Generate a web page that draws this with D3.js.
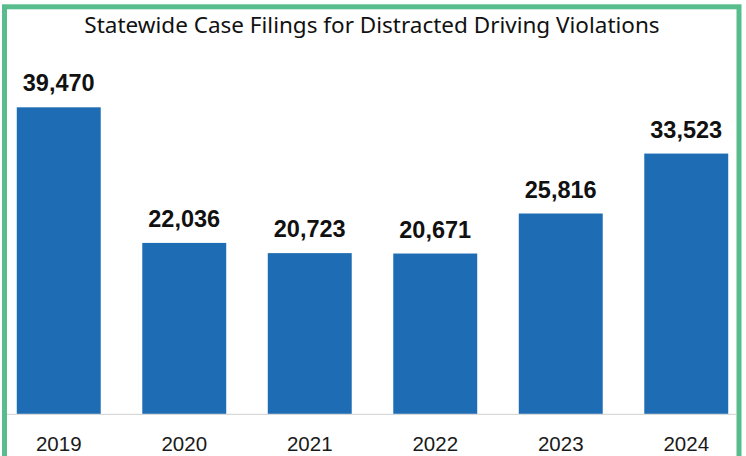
<!DOCTYPE html>
<html>
<head>
<meta charset="utf-8">
<script src="https://cdn.jsdelivr.net/npm/d3@7"></script>
<style>
  html, body { margin: 0; padding: 0; background: #fff; }
  svg { display: block; }
</style>
</head>
<body>
<svg id="chart" width="746" height="456"></svg>
<script>
const years = ["2019", "2020", "2021", "2022", "2023", "2024"];
const filings = [39470, 22036, 20723, 20671, 25816, 33523];
const title = "Statewide Case Filings for Distracted Driving Violations";

const svg = d3.select("#chart");
const width = +svg.attr("width");
const height = +svg.attr("height");

const baseY = 414.3;

const x = d3.scaleBand()
    .domain(years)
    .range([-4, 749])
    .paddingInner(0.331)
    .paddingOuter(0.1655);

const y = d3.scaleLinear()
    .domain([0, 45000])
    .range([baseY, baseY - 350]);

// green frame
svg.append("rect")
    .attr("x", 4.5)
    .attr("y", 6.8)
    .attr("width", 734.5)
    .attr("height", 470)
    .attr("fill", "none")
    .attr("stroke", "#58bd8d")
    .attr("stroke-width", 5);

svg.append("text")
    .attr("x", 372)
    .attr("y", 33.3)
    .attr("text-anchor", "middle")
    .style("font-family", "'Noto Sans', 'Open Sans', sans-serif")
    .style("font-size", "22.5px")
    .style("fill", "#111")
    .text(title);

const data = years.map((yr, i) => ({ year: yr, value: filings[i] }));

svg.selectAll("rect.bar")
    .data(data)
    .enter().append("rect")
    .attr("class", "bar")
    .attr("x", d => x(d.year))
    .attr("y", d => y(d.value))
    .attr("width", x.bandwidth())
    .attr("height", d => y(0) - y(d.value))
    .attr("fill", "#1e6db4");

// baseline
svg.append("line")
    .attr("x1", 7)
    .attr("x2", 736)
    .attr("y1", baseY)
    .attr("y2", baseY)
    .attr("stroke", "#d9d9d9")
    .attr("stroke-width", 1.2);

svg.selectAll("text.value")
    .data(data)
    .enter().append("text")
    .attr("class", "value")
    .attr("x", d => x(d.year) + x.bandwidth() / 2)
    .attr("y", d => y(d.value) - 16)
    .attr("text-anchor", "middle")
    .style("font-family", "'Liberation Sans', Arial, sans-serif")
    .style("font-weight", "bold")
    .style("font-size", "23.5px")
    .style("fill", "#111")
    .text(d => d3.format(",")(d.value));

svg.selectAll("text.year")
    .data(data)
    .enter().append("text")
    .attr("class", "year")
    .attr("x", d => x(d.year) + x.bandwidth() / 2)
    .attr("y", 451)
    .attr("text-anchor", "middle")
    .style("font-family", "'Liberation Sans', Arial, sans-serif")
    .style("font-size", "20.5px")
    .style("fill", "#1a1a1a")
    .text(d => d.year);
</script>
</body>
</html>
